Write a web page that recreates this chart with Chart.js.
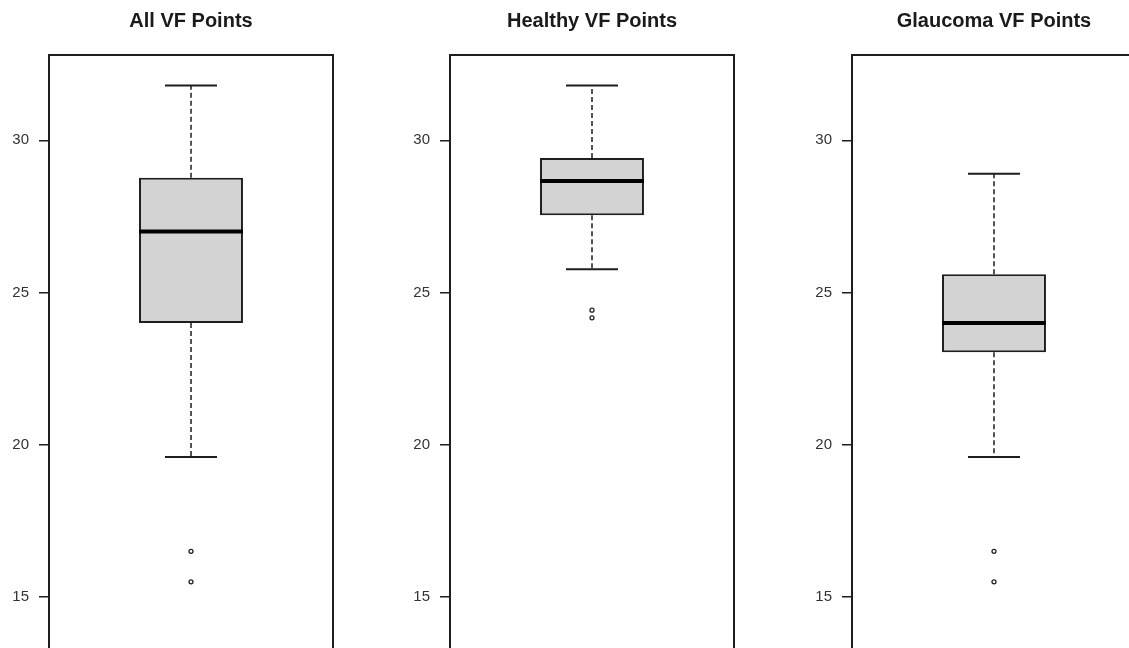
<!DOCTYPE html>
<html>
<head>
<meta charset="utf-8">
<title>VF Points</title>
<script src="https://cdn.jsdelivr.net/npm/chart.js@4.4.1/dist/chart.umd.min.js"></script>
<style>
  html, body { margin: 0; padding: 0; background: #ffffff; overflow: hidden; width: 1129px; height: 648px; }
  .panel { position: absolute; top: 0; }
</style>
</head>
<body>
<canvas id="panel0" class="panel" width="382" height="683" style="left:0px"></canvas>
<canvas id="panel1" class="panel" width="382" height="683" style="left:401px"></canvas>
<canvas id="panel2" class="panel" width="382" height="683" style="left:803px"></canvas>
<script>
// Five-number summaries of the visual-field points, one entry per group
const panelTitles   = ['All VF Points', 'Healthy VF Points', 'Glaucoma VF Points'];
const upperWhisker  = [31.8, 31.8, 28.9];
const upperQuartile = [28.77, 29.42, 25.6];
const medianValue   = [27.0, 28.66, 24.0];
const lowerQuartile = [24.0, 27.54, 23.04];
const lowerWhisker  = [19.6, 25.76, 19.6];
const outlierValues = [[16.5, 15.5], [24.42, 24.17], [16.5, 15.5]];
const yTickValues   = [15, 20, 25, 30];
const yMin = 12.8;
const yMax = 32.8;

const INK = '#1e1e1e';
const FONT = "'Liberation Sans', Arial, sans-serif";

// Median bar, dashed whiskers with staples, and the frame round the plot
const boxDetails = {
  id: 'boxDetails',
  afterDatasetsDraw(chart, args, opts) {
    const i = opts.index;
    const { ctx, scales: { y } } = chart;
    const bar = chart.getDatasetMeta(0).data[0];
    const cx = bar.x;
    const half = bar.width / 2;
    const staple = half / 2;

    ctx.save();
    ctx.strokeStyle = INK;

    // whiskers
    ctx.lineWidth = 1.5;
    ctx.setLineDash([5, 3]);
    ctx.beginPath();
    ctx.moveTo(cx, y.getPixelForValue(upperQuartile[i]));
    ctx.lineTo(cx, y.getPixelForValue(upperWhisker[i]));
    ctx.moveTo(cx, y.getPixelForValue(lowerQuartile[i]));
    ctx.lineTo(cx, y.getPixelForValue(lowerWhisker[i]));
    ctx.stroke();

    // staples
    ctx.setLineDash([]);
    ctx.lineWidth = 2;
    ctx.beginPath();
    const yu = y.getPixelForValue(upperWhisker[i]);
    const yl = y.getPixelForValue(lowerWhisker[i]);
    ctx.moveTo(cx - staple, yu); ctx.lineTo(cx + staple, yu);
    ctx.moveTo(cx - staple, yl); ctx.lineTo(cx + staple, yl);
    ctx.stroke();

    // median
    ctx.lineWidth = 4;
    ctx.strokeStyle = '#000000';
    const ym = y.getPixelForValue(medianValue[i]);
    ctx.beginPath();
    ctx.moveTo(cx - half, ym); ctx.lineTo(cx + half, ym);
    ctx.stroke();
    ctx.restore();
  },
  afterDraw(chart) {
    const { ctx, chartArea: a } = chart;
    ctx.save();
    ctx.strokeStyle = INK;
    ctx.lineWidth = 2;
    ctx.strokeRect(a.left, a.top, a.right - a.left, a.bottom - a.top);
    ctx.restore();
  }
};

panelTitles.forEach((title, i) => {
  new Chart(document.getElementById('panel' + i), {
    type: 'bar',
    data: {
      labels: [title],
      datasets: [
        {
          type: 'bar',
          data: [[lowerQuartile[i], upperQuartile[i]]],
          backgroundColor: '#d3d3d3',
          borderColor: INK,
          borderWidth: 2,
          borderSkipped: false,
          barPercentage: 0.366,
          categoryPercentage: 1
        },
        {
          type: 'line',
          data: outlierValues[i].map(v => ({ x: title, y: v })),
          showLine: false,
          pointStyle: 'circle',
          pointRadius: 2,
          pointBorderWidth: 1.3,
          pointBorderColor: '#222222',
          pointBackgroundColor: '#ffffff'
        }
      ]
    },
    options: {
      responsive: false,
      animation: false,
      devicePixelRatio: 1,
      layout: { padding: { left: 0, right: 49, top: 0, bottom: 0 } },
      plugins: {
        legend: { display: false },
        tooltip: { enabled: false },
        title: {
          display: true,
          fullSize: false,
          text: title,
          color: '#1a1a1a',
          font: { family: FONT, size: 20, weight: 'bold', lineHeight: 1.2 },
          padding: { top: 9.5, bottom: 21.5 }
        },
        boxDetails: { index: i }
      },
      scales: {
        x: { display: false },
        y: {
          min: yMin,
          max: yMax,
          afterFit(scale) { scale.width = 49; },
          afterBuildTicks(scale) { scale.ticks = yTickValues.map(v => ({ value: v })); },
          border: { display: false },
          grid: {
            drawOnChartArea: false,
            drawTicks: true,
            tickLength: 10,
            color: INK,
            lineWidth: 1.5
          },
          ticks: {
            padding: 10,
            color: '#333333',
            font: { family: FONT, size: 15 },
            callback: v => String(v)
          }
        }
      }
    },
    plugins: [boxDetails]
  });
});
</script>
</body>
</html>
